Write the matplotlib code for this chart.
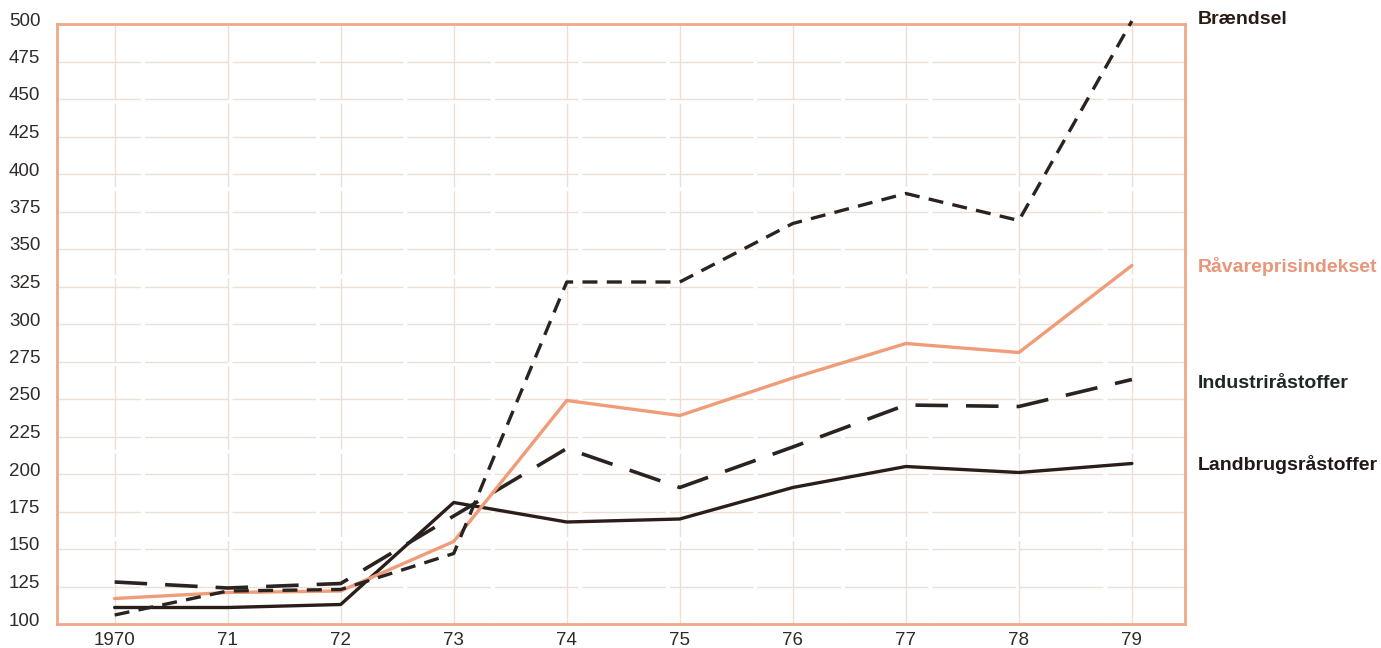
import matplotlib
matplotlib.use("Agg")
import matplotlib.pyplot as plt
import matplotlib.transforms as mtransforms

years = [0, 1, 2, 3, 4, 5, 6, 7, 8, 9]
year_labels = ["1970", "71", "72", "73", "74", "75", "76", "77", "78", "79"]

braendsel = [106, 122, 123, 147, 328, 328, 367, 387, 369, 502]
raavare = [117, 121, 122, 155, 249, 239, 264, 287, 281, 339]
industri = [128, 124, 127, 172, 217, 191, 218, 246, 245, 263]
landbrug = [111, 111, 113, 181, 168, 170, 191, 205, 201, 207]

y_ticks = list(range(100, 501, 25))

series_names = ["Brændsel", "Råvareprisindekset", "Industriråstoffer", "Landbrugsråstoffer"]

plt.rcParams['font.family'] = ['Liberation Sans', 'DejaVu Sans']

fig = plt.figure(figsize=(13.81, 6.48), dpi=100)
ax = fig.add_axes([57/1381, 1-624/648, (1185-57)/1381, 600/648])

ax.set_xlim(-0.51, 9.47)
ax.set_ylim(100, 500)

ax.set_xticks(years)
ax.set_xticklabels(year_labels)
ax.set_yticks(y_ticks)
ax.set_yticklabels([str(v) for v in y_ticks])
ax.tick_params(length=0, labelsize=13.5, colors='#2e2a28', pad=6)
ax.tick_params(axis='y', pad=12)
for lab in ax.get_yticklabels():
    lab.set_transform(lab.get_transform() + mtransforms.ScaledTranslation(0, 5/100, fig.dpi_scale_trans))

ax.grid(True, color='#ece0d6', lw=1.0, linestyle=(0, (60, 3)))
ax.set_axisbelow(True)
for s in ax.spines.values():
    s.set_color('#f0a888')
    s.set_linewidth(2)

dark = '#2a2320'
salmon = '#f09c78'

ax.plot(years, landbrug, color='#2b1e1a', lw=2.4, solid_capstyle='round', zorder=3)
ax.plot(years, industri, color=dark, lw=2.6, linestyle=(0, (9, 5)), zorder=3)
ax.plot(years, raavare, color=salmon, lw=2.4, solid_capstyle='round', zorder=4)
ax.plot(years, braendsel, color=dark, lw=2.4, linestyle=(0, (4.5, 2.8)), zorder=5, clip_on=False)

label_info = [
    (series_names[0], 20, '#2a1c14'),
    (series_names[1], 266, '#e8957a'),
    (series_names[2], 384, '#1e2826'),
    (series_names[3], 465, '#221816'),
]
for name, ypix, col in label_info:
    fig.text(1198/1381, 1 - ypix/648, name, ha='left', va='center',
             fontsize=14, fontweight='bold', color=col)

fig.savefig("out.png", dpi=100, facecolor='white')
